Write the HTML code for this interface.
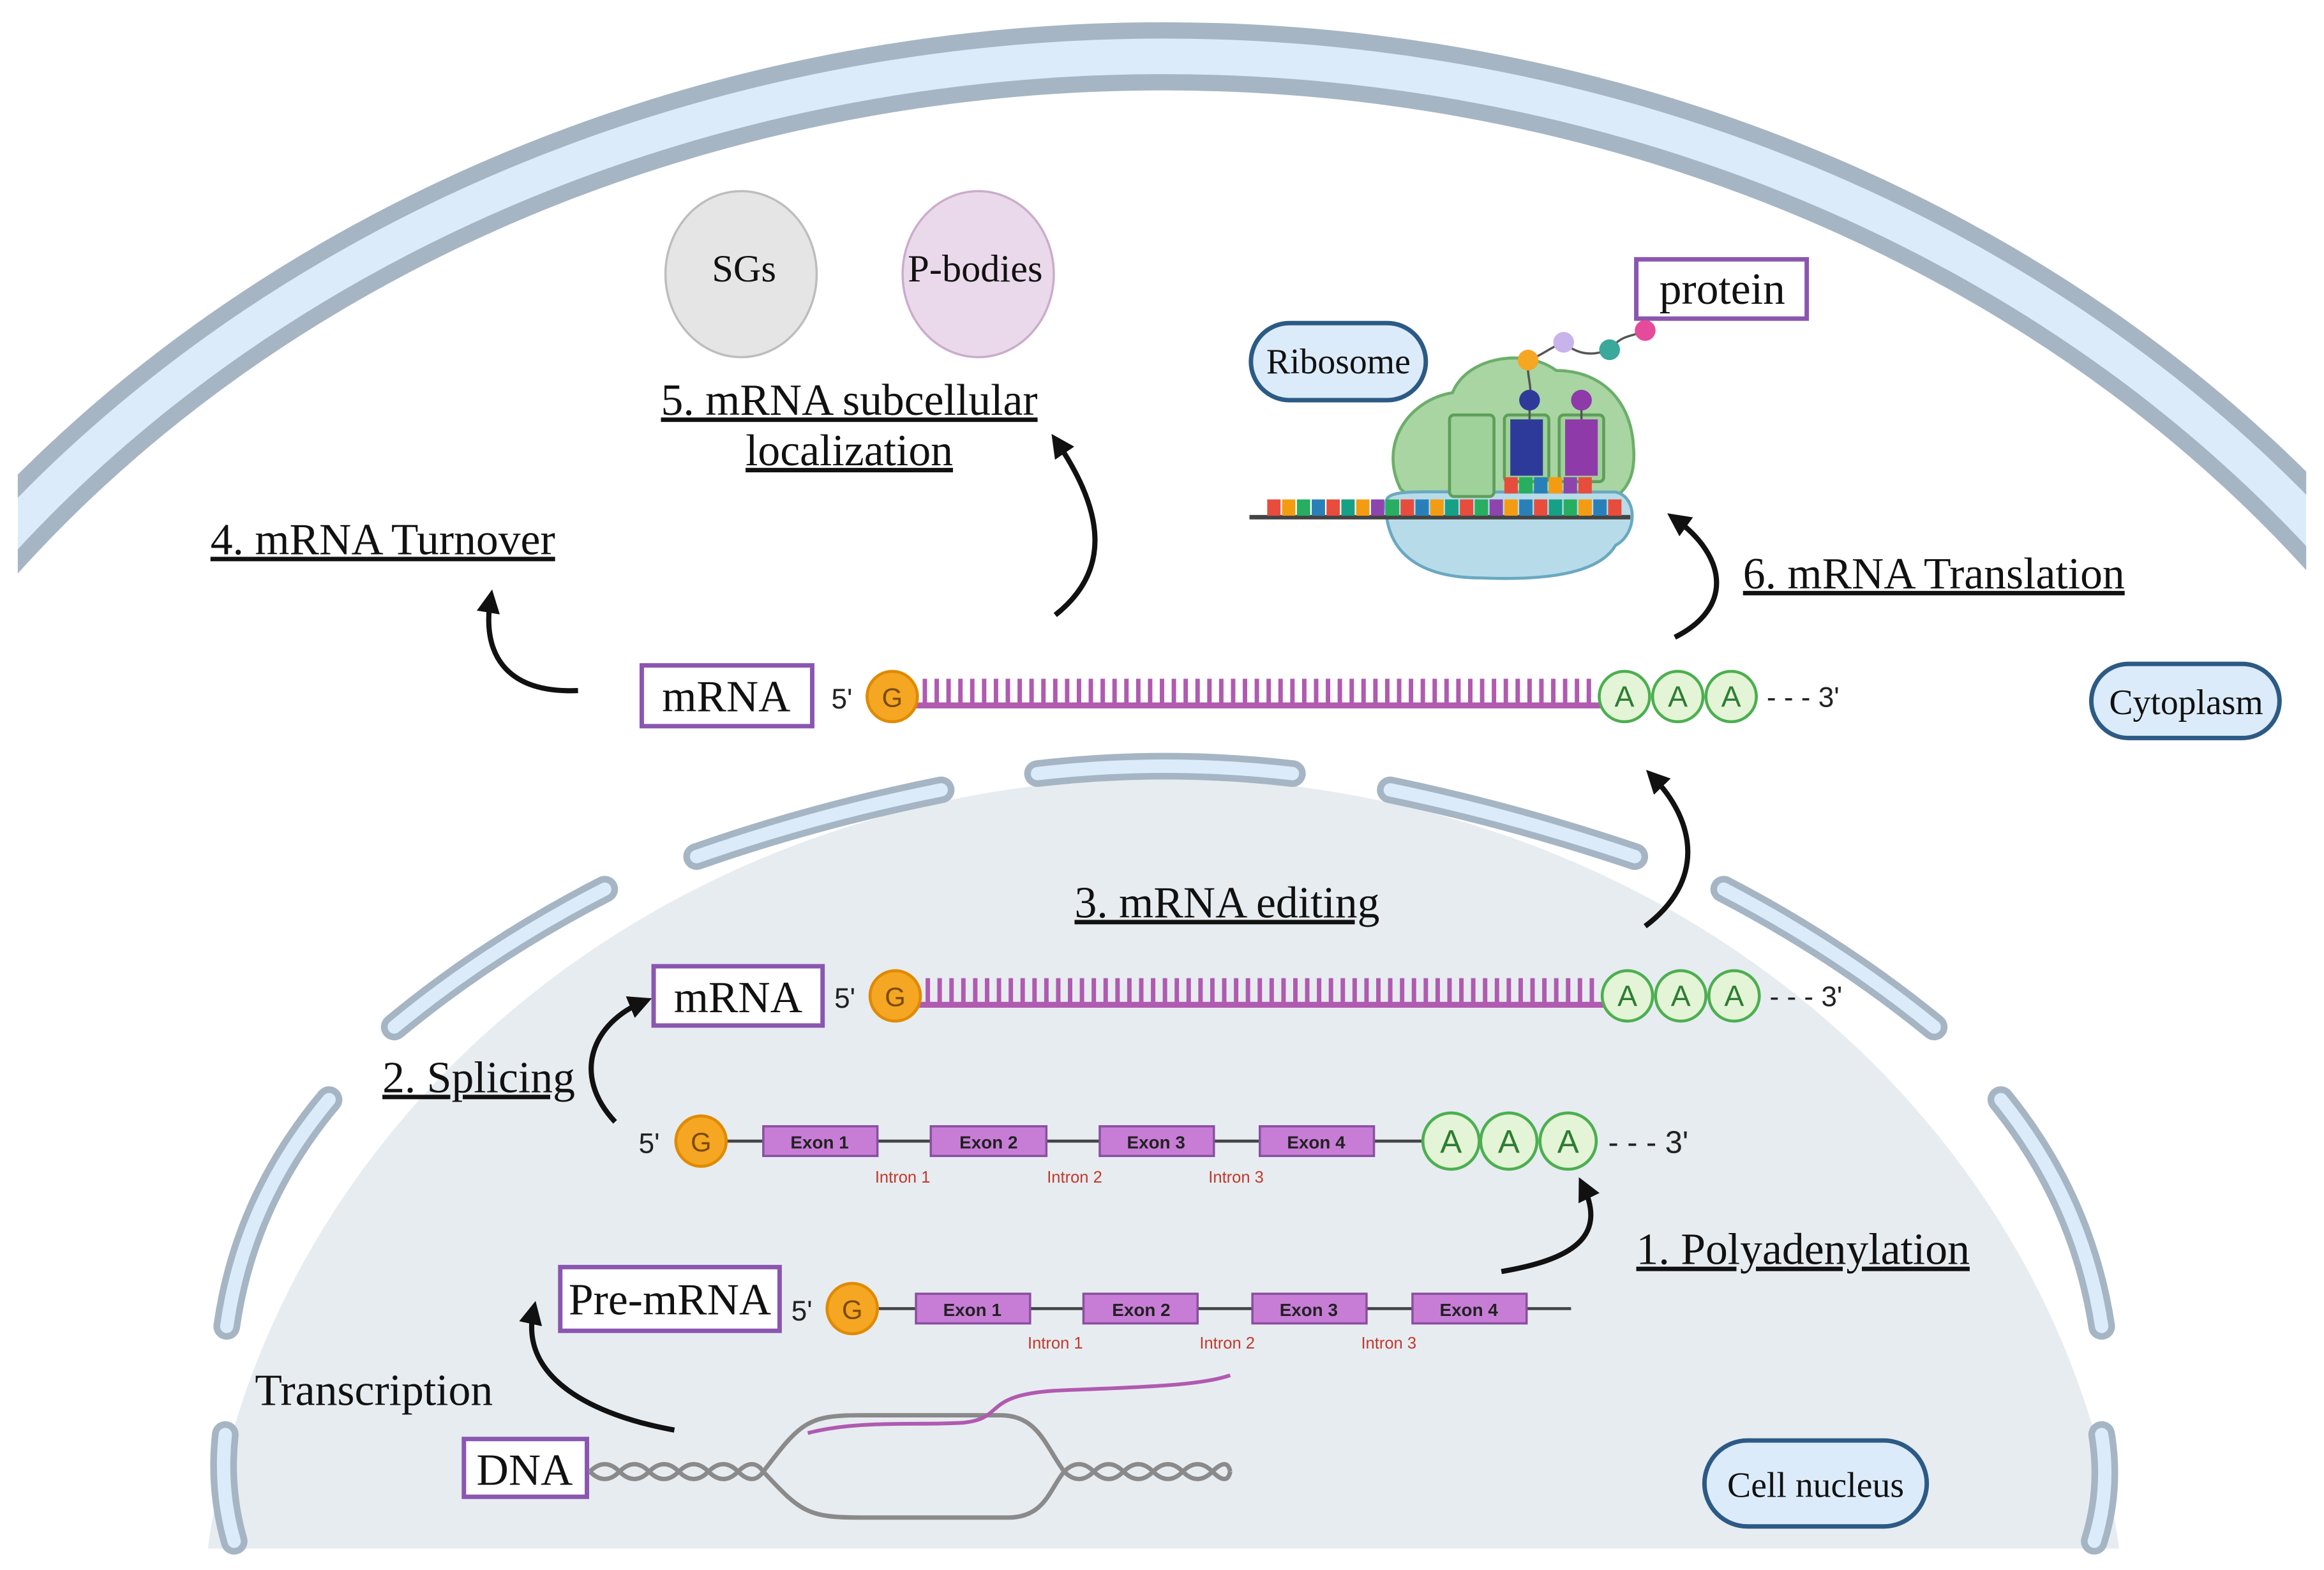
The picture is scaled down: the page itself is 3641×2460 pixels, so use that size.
<!DOCTYPE html>
<html><head><meta charset="utf-8">
<style>
html,body{margin:0;padding:0;background:#fff;width:3641px;height:2460px;overflow:hidden;}
svg{display:block;}
.ser{font-family:"Liberation Serif",serif;fill:#111;}
.san{font-family:"Liberation Sans",sans-serif;}
</style></head>
<body>
<svg width="3641" height="2460" viewBox="0 0 1568 1059.4" xmlns="http://www.w3.org/2000/svg">
<defs>
<marker id="ah" viewBox="0 0 10 10" refX="6" refY="5" markerWidth="4.5" markerHeight="4.5" orient="auto-start-reverse">
<path d="M0,0 L10,5 L0,10 z" fill="#111"/></marker>
</defs>
<rect width="1568" height="1060" fill="#fff"/>
<!-- cell membrane -->
<ellipse cx="785" cy="900" rx="1000" ry="862" fill="none" stroke="#a6b5c3" stroke-width="46"/>
<ellipse cx="785" cy="900" rx="1000" ry="862" fill="none" stroke="#dcebf9" stroke-width="24"/>
<rect x="0" y="0" width="12" height="1060" fill="#fff"/>
<rect x="1556" y="0" width="12" height="1060" fill="#fff"/>
<!-- nucleus -->
<ellipse cx="785" cy="1120" rx="650" ry="595" fill="#e7ecf1"/>
<rect x="0" y="1045" width="1568" height="20" fill="#fff"/>
<g fill="none" stroke-linecap="round">
<g stroke="#a6b5c3" stroke-width="18">
<path d="M700 522 Q786 512 872 522"/><path d="M470 578 Q550 550 635 533"/><path d="M938 533 Q1020 550 1103 578"/>
<path d="M266 693 Q330 640 408 600"/><path d="M1163 600 Q1240 640 1305 693"/><path d="M153 895 Q165 810 222 742"/>
<path d="M1350 742 Q1405 810 1418 895"/><path d="M152 968 Q148 1005 158 1040"/><path d="M1418 968 Q1424 1005 1413 1040"/>
</g>
<g stroke="#dcebf9" stroke-width="9">
<path d="M700 522 Q786 512 872 522"/><path d="M470 578 Q550 550 635 533"/><path d="M938 533 Q1020 550 1103 578"/>
<path d="M266 693 Q330 640 408 600"/><path d="M1163 600 Q1240 640 1305 693"/><path d="M153 895 Q165 810 222 742"/>
<path d="M1350 742 Q1405 810 1418 895"/><path d="M152 968 Q148 1005 158 1040"/><path d="M1418 968 Q1424 1005 1413 1040"/>
</g></g>

<!-- SGs / P-bodies -->
<ellipse cx="500" cy="185" rx="51" ry="56" fill="#e5e5e5" stroke="#bdbdbd" stroke-width="1.5"/>
<text x="502" y="190" class="ser" font-size="26" text-anchor="middle">SGs</text>
<ellipse cx="660" cy="185" rx="51" ry="56" fill="#ead9ea" stroke="#caaccb" stroke-width="1.5"/>
<text x="658" y="190" class="ser" font-size="26" text-anchor="middle">P-bodies</text>

<!-- labels -->
<g class="ser" font-size="30" text-decoration="underline">
<text x="573" y="280" text-anchor="middle">5. mRNA subcellular</text>
<text x="573" y="314" text-anchor="middle">localization</text>
<text x="142" y="374">4. mRNA Turnover</text>
<text x="1176" y="397">6. mRNA Translation</text>
<text x="725" y="619">3. mRNA editing</text>
<text x="258" y="737">2. Splicing</text>
<text x="1104" y="853">1. Polyadenylation</text>
</g>
<text x="172" y="948" class="ser" font-size="30">Transcription</text>

<!-- boxes -->
<g fill="#fff" stroke="#8a56b0" stroke-width="3">
<rect x="433" y="449" width="115" height="41"/>
<rect x="1104" y="175" width="115" height="40"/>
<rect x="441" y="652" width="114" height="40"/>
<rect x="378" y="855" width="148" height="43"/>
<rect x="313" y="971" width="83" height="39"/>
</g>
<g class="ser" font-size="30" text-anchor="middle">
<text x="490" y="480">mRNA</text>
<text x="1162" y="205">protein</text>
<text x="498" y="683">mRNA</text>
<text x="452" y="887">Pre-mRNA</text>
<text x="354" y="1002">DNA</text>
</g>
<!-- pills -->
<g fill="#dcebf9" stroke="#2c5a85" stroke-width="3">
<rect x="844" y="218" width="118" height="52" rx="26"/>
<rect x="1411" y="448" width="127" height="50" rx="25"/>
<rect x="1150" y="972" width="150" height="58" rx="29"/>
</g>
<g class="ser" font-size="24" text-anchor="middle">
<text x="903" y="252">Ribosome</text>
<text x="1475" y="482">Cytoplasm</text>
<text x="1225" y="1010">Cell nucleus</text>
</g>

<!-- mRNA top -->
<g id="mrna">
<text x="568" y="478" class="san" font-size="19" text-anchor="middle" fill="#222">5'</text>
<line x1="618" y1="476" x2="1082" y2="476" stroke="#b05ab0" stroke-width="4"/>
<path d="M624 476 V458 M632 476 V458 M640 476 V458 M648 476 V458 M656 476 V458 M664 476 V458 M672 476 V458 M680 476 V458 M688 476 V458 M696 476 V458 M704 476 V458 M712 476 V458 M720 476 V458 M728 476 V458 M736 476 V458 M744 476 V458 M752 476 V458 M760 476 V458 M768 476 V458 M776 476 V458 M784 476 V458 M792 476 V458 M800 476 V458 M808 476 V458 M816 476 V458 M824 476 V458 M832 476 V458 M840 476 V458 M848 476 V458 M856 476 V458 M864 476 V458 M872 476 V458 M880 476 V458 M888 476 V458 M896 476 V458 M904 476 V458 M912 476 V458 M920 476 V458 M928 476 V458 M936 476 V458 M944 476 V458 M952 476 V458 M960 476 V458 M968 476 V458 M976 476 V458 M984 476 V458 M992 476 V458 M1000 476 V458 M1008 476 V458 M1016 476 V458 M1024 476 V458 M1032 476 V458 M1040 476 V458 M1048 476 V458 M1056 476 V458 M1064 476 V458 M1072 476 V458" stroke="#b05ab0" stroke-width="3"/>
<circle cx="602" cy="470" r="17" fill="#f5a623" stroke="#e08a00" stroke-width="2"/>
<text x="602" y="477" class="san" font-size="18" text-anchor="middle" fill="#7a4a00">G</text>
<g fill="#e4f4d6" stroke="#4caf50" stroke-width="2">
<circle cx="1096" cy="470" r="17"/><circle cx="1132" cy="470" r="17"/><circle cx="1168" cy="470" r="17"/></g>
<g class="san" font-size="20" text-anchor="middle" fill="#2e7d32">
<text x="1096" y="477">A</text><text x="1132" y="477">A</text><text x="1168" y="477">A</text></g>
<text x="1192" y="477" class="san" font-size="19" fill="#222">- - - 3'</text>
</g>
<use href="#mrna" transform="translate(2,202)"/>

<!-- splicing row -->
<line x1="490" y1="770" x2="962" y2="770" stroke="#444" stroke-width="2"/>
<text x="438" y="778" class="san" font-size="19" text-anchor="middle" fill="#222">5'</text>
<circle cx="473" cy="770" r="17" fill="#f5a623" stroke="#e08a00" stroke-width="2"/>
<text x="473" y="777" class="san" font-size="18" text-anchor="middle" fill="#7a4a00">G</text>
<g fill="#c77dd6" stroke="#8a4fa0" stroke-width="1.5">
<rect x="515" y="760" width="77" height="20"/><rect x="628" y="760" width="78" height="20"/>
<rect x="742" y="760" width="77" height="20"/><rect x="850" y="760" width="77" height="20"/></g>
<g class="san" font-size="12" font-weight="bold" text-anchor="middle" fill="#222">
<text x="553" y="775">Exon 1</text><text x="667" y="775">Exon 2</text><text x="780" y="775">Exon 3</text><text x="888" y="775">Exon 4</text></g>
<g class="san" font-size="11" text-anchor="middle" fill="#c0392b">
<text x="609" y="798">Intron 1</text><text x="725" y="798">Intron 2</text><text x="834" y="798">Intron 3</text></g>
<g fill="#e4f4d6" stroke="#4caf50" stroke-width="2">
<circle cx="979" cy="770" r="19"/><circle cx="1018" cy="770" r="19"/><circle cx="1058" cy="770" r="19"/></g>
<g class="san" font-size="22" text-anchor="middle" fill="#2e7d32">
<text x="979" y="778">A</text><text x="1018" y="778">A</text><text x="1058" y="778">A</text></g>
<text x="1085" y="778" class="san" font-size="21" fill="#222">- - - 3'</text>

<!-- pre-mRNA row -->
<line x1="593" y1="883" x2="1060" y2="883" stroke="#444" stroke-width="2"/>
<text x="541" y="891" class="san" font-size="19" text-anchor="middle" fill="#222">5'</text>
<circle cx="575" cy="883" r="17" fill="#f5a623" stroke="#e08a00" stroke-width="2"/>
<text x="575" y="890" class="san" font-size="18" text-anchor="middle" fill="#7a4a00">G</text>
<g fill="#c77dd6" stroke="#8a4fa0" stroke-width="1.5">
<rect x="618" y="873" width="77" height="20"/><rect x="731" y="873" width="77" height="20"/>
<rect x="845" y="873" width="77" height="20"/><rect x="953" y="873" width="77" height="20"/></g>
<g class="san" font-size="12" font-weight="bold" text-anchor="middle" fill="#222">
<text x="656" y="888">Exon 1</text><text x="770" y="888">Exon 2</text><text x="883" y="888">Exon 3</text><text x="991" y="888">Exon 4</text></g>
<g class="san" font-size="11" text-anchor="middle" fill="#c0392b">
<text x="712" y="910">Intron 1</text><text x="828" y="910">Intron 2</text><text x="937" y="910">Intron 3</text></g>

<!-- DNA -->
<g fill="none" stroke="#8a8a8a" stroke-width="3">
<path d="M398 993 q10 -10 20 0 t20 0 t20 0 t20 0 t20 0 t17 0"/>
<path d="M398 993 q10 10 20 0 t20 0 t20 0 t20 0 t20 0 t17 0"/>
<path d="M718 993 q10 -10 20 0 t20 0 t20 0 t20 0 t20 0 t12 0"/>
<path d="M718 993 q10 10 20 0 t20 0 t20 0 t20 0 t20 0 t12 0"/>
<path d="M515 993 C540 960 545 955 580 955 L675 955 C700 955 705 975 718 993"/>
<path d="M515 993 C540 1020 545 1024 580 1024 L680 1024 C705 1024 708 1005 718 993"/>
</g>
<path d="M545 967 C580 958 620 962 650 960 C680 957 660 940 720 938 C770 936 810 935 830 928" fill="none" stroke="#b05ab0" stroke-width="2.5"/>

<!-- arrows -->
<g fill="none" stroke="#111" stroke-width="3.5" marker-end="url(#ah)">
<path d="M455 965 C400 955 350 930 360 884"/>
<path d="M415 757 C385 725 400 690 434 676"/>
<path d="M1013 858 C1060 850 1085 835 1068 800"/>
<path d="M1110 625 C1150 595 1145 555 1115 524"/>
<path d="M390 466 C340 468 325 440 331 404"/>
<path d="M712 415 C750 385 745 345 713 298"/>
<path d="M1130 430 C1170 410 1165 375 1130 350"/>
</g>

<!-- ribosome -->
<path d="M945 330 C930 300 950 270 980 265 C990 240 1030 235 1050 250 C1080 250 1100 270 1102 300 C1105 330 1090 340 1070 340 L960 342 Z" fill="#a8d5a2" stroke="#6cae6a" stroke-width="2"/>
<path d="M935 340 C935 330 950 332 1000 332 L1090 332 C1105 335 1105 360 1090 368 C1080 385 1050 392 1000 390 C960 390 935 375 935 340 Z" fill="#b7dbe8" stroke="#6aa8c0" stroke-width="2"/>
<rect x="978" y="280" width="30" height="55" rx="3" fill="#9fd19a" stroke="#5e9e5a" stroke-width="2"/>
<rect x="1015" y="280" width="30" height="45" rx="3" fill="#9fd19a" stroke="#5e9e5a" stroke-width="2"/>
<rect x="1019" y="283" width="22" height="38" fill="#2e3a9a"/>
<rect x="1052" y="280" width="30" height="45" rx="3" fill="#9fd19a" stroke="#5e9e5a" stroke-width="2"/>
<rect x="1056" y="283" width="22" height="38" fill="#8e3aa8"/>
<line x1="843" y1="349" x2="1100" y2="349" stroke="#444" stroke-width="3"/>
<g>
<rect x="855" y="337" width="9" height="11" fill="#e74c3c"/><rect x="865" y="337" width="9" height="11" fill="#f39c12"/>
<rect x="875" y="337" width="9" height="11" fill="#27ae60"/><rect x="885" y="337" width="9" height="11" fill="#2980b9"/>
<rect x="895" y="337" width="9" height="11" fill="#e74c3c"/><rect x="905" y="337" width="9" height="11" fill="#16a085"/>
<rect x="915" y="337" width="9" height="11" fill="#f39c12"/><rect x="925" y="337" width="9" height="11" fill="#8e44ad"/>
<rect x="935" y="337" width="9" height="11" fill="#27ae60"/><rect x="945" y="337" width="9" height="11" fill="#e74c3c"/>
<rect x="955" y="337" width="9" height="11" fill="#2980b9"/><rect x="965" y="337" width="9" height="11" fill="#f39c12"/>
<rect x="975" y="337" width="9" height="11" fill="#16a085"/><rect x="985" y="337" width="9" height="11" fill="#e74c3c"/>
<rect x="995" y="337" width="9" height="11" fill="#27ae60"/><rect x="1005" y="337" width="9" height="11" fill="#8e44ad"/>
<rect x="1015" y="337" width="9" height="11" fill="#f39c12"/><rect x="1025" y="337" width="9" height="11" fill="#2980b9"/>
<rect x="1035" y="337" width="9" height="11" fill="#e74c3c"/><rect x="1045" y="337" width="9" height="11" fill="#16a085"/>
<rect x="1055" y="337" width="9" height="11" fill="#27ae60"/><rect x="1065" y="337" width="9" height="11" fill="#f39c12"/>
<rect x="1075" y="337" width="9" height="11" fill="#2980b9"/><rect x="1085" y="337" width="9" height="11" fill="#e74c3c"/>
<rect x="1015" y="322" width="9" height="11" fill="#e74c3c"/><rect x="1025" y="322" width="9" height="11" fill="#27ae60"/>
<rect x="1035" y="322" width="9" height="11" fill="#2980b9"/><rect x="1045" y="322" width="9" height="11" fill="#f39c12"/>
<rect x="1055" y="322" width="9" height="11" fill="#8e44ad"/><rect x="1065" y="322" width="9" height="11" fill="#e74c3c"/>
</g>
<path d="M1031 243 C1030 255 1034 260 1032 270 M1031 243 C1040 240 1045 235 1055 231 C1065 240 1075 240 1086 236 C1095 225 1100 228 1110 223 M1067 270 L1067 283 M1032 270 L1032 283" fill="none" stroke="#555" stroke-width="1.5"/>
<circle cx="1031" cy="243" r="7" fill="#f5a623"/>
<circle cx="1032" cy="270" r="7" fill="#2e3a9a"/>
<circle cx="1067" cy="270" r="7" fill="#8e3aa8"/>
<circle cx="1055" cy="231" r="7" fill="#c9b3ec"/>
<circle cx="1086" cy="236" r="7" fill="#3aa89a"/>
<circle cx="1110" cy="223" r="7" fill="#e64a9b"/>
</svg>
</body></html>
